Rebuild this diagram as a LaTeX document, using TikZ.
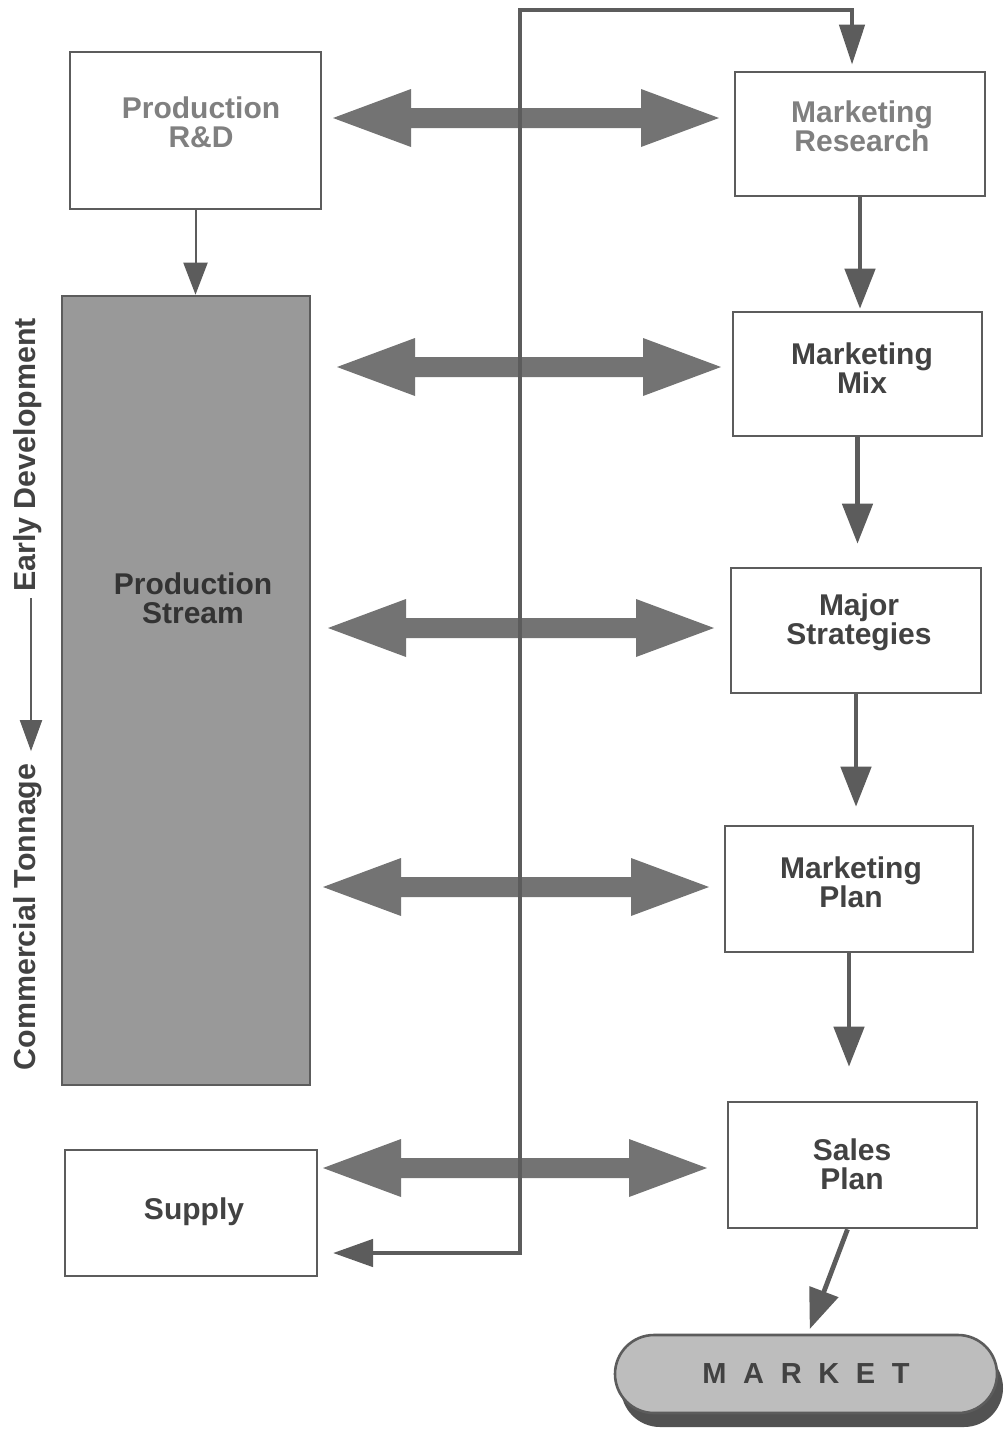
\documentclass[tikz,border=0pt]{standalone}
\usepackage{fontspec}
\setmainfont{Liberation Sans}
\usetikzlibrary{arrows.meta,calc,shadows}

\definecolor{inkline}{gray}{0.36}
\definecolor{inktext}{gray}{0.26}
\definecolor{inkpale}{gray}{0.50}
\definecolor{linkfill}{gray}{0.45}
\definecolor{streamfill}{gray}{0.60}
\definecolor{marketfill}{gray}{0.74}
\definecolor{shadowfill}{gray}{0.32}

% wide two-headed link between the two columns: tips at #1 (left) and #2 (right)
\newcommand\twoway[2]{%
  \fill[linkfill] (#1) -- ($(#1)+(78,-29)$) -- ($(#1)+(78,-10)$)
    -- ($(#2)+(-78,-10)$) -- ($(#2)+(-78,-29)$) -- (#2)
    -- ($(#2)+(-78,29)$) -- ($(#2)+(-78,10)$)
    -- ($(#1)+(78,10)$) -- ($(#1)+(78,29)$) -- cycle;}

\begin{document}
\begin{tikzpicture}[x=0.5pt,y=-0.5pt,
  box/.style={draw=inkline, line width=1.3pt, inner sep=0pt, fill=white},
  boxtext/.style={font=\fontsize{15}{14.5}\selectfont\bfseries, text=inktext,
    align=center, inner sep=0pt},
  paletext/.style={boxtext, text=inkpale},
  sidetext/.style={font=\fontsize{15.2}{16}\selectfont\bfseries, text=inktext,
    rotate=90, inner sep=0pt},
  flow/.style={draw=inkline, line width=2.4pt, -{Triangle[length=20pt,width=15pt]}},
  thinflow/.style={draw=inkline, line width=1pt, -{Triangle[length=16pt,width=12pt]}},
  feedback/.style={draw=inkline, line width=2.3pt,
    {Triangle[length=20pt,width=13.5pt]}-{Triangle[length=20pt,width=12.5pt]}},
]
\useasboundingbox (0,0) rectangle (1003,1435);

% ---- boxes ----
\node[box, minimum width=125.5pt, minimum height=78.5pt] (rd) at (195.5,130.5) {};
\node[box, fill=streamfill, minimum width=124pt, minimum height=394.5pt] (ps) at (186,690.5) {};
\node[box, minimum width=126pt, minimum height=63pt] (su) at (191,1213) {};
\node[box, minimum width=125pt, minimum height=62pt] (mr) at (860,134) {};
\node[box, minimum width=124.5pt, minimum height=62pt] (mm) at (857.5,374) {};
\node[box, minimum width=125pt, minimum height=62.5pt] (ms) at (856,630.5) {};
\node[box, minimum width=124pt, minimum height=63pt] (mp) at (849,889) {};
\node[box, minimum width=124.5pt, minimum height=63pt] (sp) at (852.5,1165) {};

% ---- box texts ----
\node[paletext] (rdtext) at (201,122) {Production\\R\&D};
\node[boxtext, text=black!80] (pstext) at (193,598) {Production\\Stream};
\node[boxtext] (sutext) at (194,1212) {Supply};
\node[paletext] (mrtext) at (862,126) {Marketing\\Research};
\node[boxtext] (mmtext) at (862,368) {Marketing\\Mix};
\node[boxtext] (mstext) at (859,622) {Major\\Strategies};
\node[boxtext] (mptext) at (851,882) {Marketing\\Plan};
\node[boxtext] (sptext) at (852,1164) {Sales\\Plan};

% ---- market ----
\node[draw=inkline, line width=1.3pt, fill=marketfill, rounded corners=19.5pt,
  minimum width=191pt, minimum height=39pt, inner sep=0pt,
  drop shadow={shadow xshift=3pt, shadow yshift=-7pt, fill=shadowfill, opacity=1},
  font=\fontsize{14.5}{16}\selectfont\bfseries, text=inktext]
  (market) at (806,1374) {M\kern8.3pt A\kern8.3pt R\kern8.3pt K\kern8.3pt E\kern8.3pt T};

% ---- side labels ----
\node[sidetext] (early) at (28,455) {Early Development};
\node[sidetext] (comm) at (28,917) {Commercial Tonnage};
\draw[draw=inkline, line width=1pt, -{Triangle[length=15.5pt,width=11pt]},
  shorten <=3pt, shorten >=6pt] ($(early.west)+(3,0)$) -- ($(comm.east)+(3,0)$);

% ---- two-way links ----
\coordinate (l1) at (333,118);  \coordinate (r1) at (719,118);
\coordinate (l2) at (337,367);  \coordinate (r2) at (721,367);
\coordinate (l3) at (328,628);  \coordinate (r3) at (714,628);
\coordinate (l4) at (323,887);  \coordinate (r4) at (709,887);
\coordinate (l5) at (323,1168); \coordinate (r5) at (707,1168);
\twoway{l1}{r1}
\twoway{l2}{r2}
\twoway{l3}{r3}
\twoway{l4}{r4}
\twoway{l5}{r5}

% ---- feedback line ----
\coordinate (fbL) at (333,1253);
\coordinate (fbB) at (520,1253);
\coordinate (fbT) at (520,10);
\coordinate (fbR) at (852,10);
\draw[feedback, shorten >=3pt] (fbL) -- (fbB) -- (fbT) -- (fbR) -- (fbR |- mr.north);

% ---- flow arrows ----
\draw[thinflow] (rd.south) -- (rd.south |- ps.north);
\draw[flow, shorten >=1pt] (mr.south) -- (mr.south |- mm.north);
\draw[flow, shorten >=11.5pt] (mm.south) -- (mm.south |- ms.north);
\draw[flow, shorten >=9pt] (ms.south) -- (ms.south |- mp.north);
\draw[flow, shorten >=17pt] (mp.south) -- (mp.south |- sp.north);
\draw[flow, shorten >=2.5pt] ($(sp.south)+(-5,0)$) -- ($(market.north)+(2,0)$);
\end{tikzpicture}
\end{document}
